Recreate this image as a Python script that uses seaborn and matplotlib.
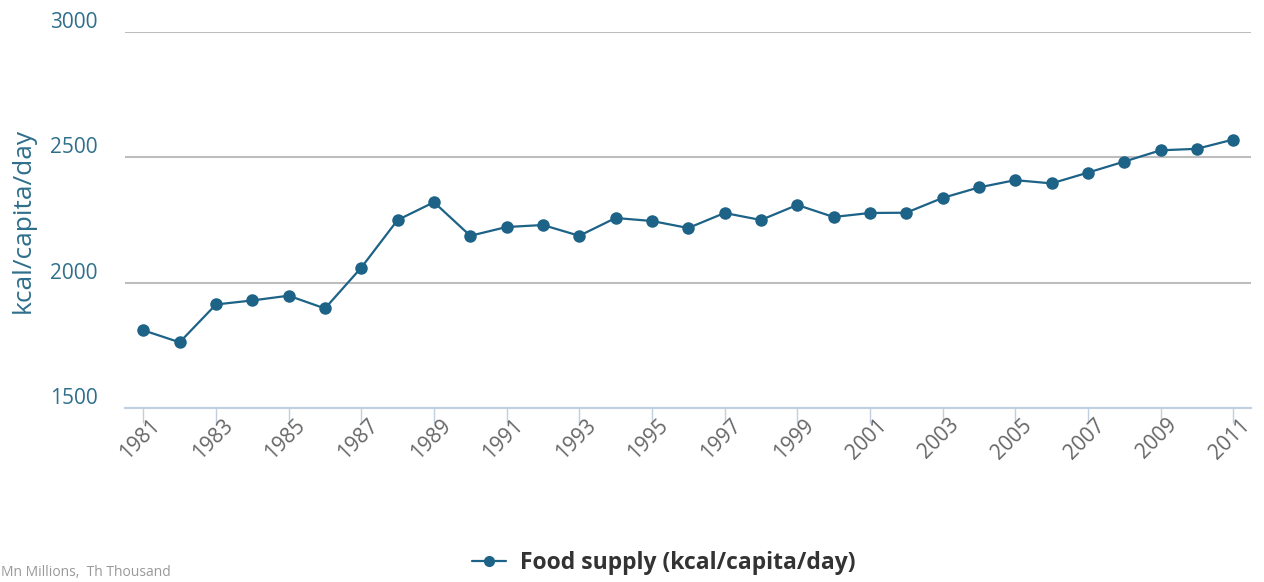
import matplotlib
matplotlib.use("Agg")
import matplotlib.pyplot as plt
import matplotlib.transforms as mtransforms
from matplotlib.lines import Line2D
import seaborn as sns
import pandas as pd

years = list(range(1981, 2012))
food_supply = [1810, 1762, 1913, 1929, 1948, 1897, 2060, 2250, 2321, 2187,
               2222, 2230, 2187, 2258, 2246, 2218, 2278, 2250, 2310, 2262,
               2278, 2279, 2338, 2380, 2409, 2396, 2439, 2483, 2528, 2534,
               2571]
tick_years = list(range(1981, 2012, 2))
y_ticks = [1500, 2000, 2500, 3000]
series_name = "Food supply (kcal/capita/day)"
y_title = "kcal/capita/day"
footnote = "Mn Millions,  Th Thousand"

df = pd.DataFrame({"year": years, "value": food_supply, "series": series_name})

sns.set_theme(style="white")
plt.rcParams["font.family"] = ["Open Sans", "DejaVu Sans"]

line_color = "#1d6287"
axis_text = "#2f6f8c"

fig = plt.figure(figsize=(12.64, 5.82), dpi=100)
ax = fig.add_axes([0.099, 0.299, 0.891, 0.646])

sns.lineplot(data=df, x="year", y="value", hue="series", palette=[line_color],
             marker="o", markersize=9, markeredgewidth=0, linewidth=1.6,
             ax=ax, legend=False)

ax.set_xlim(1980.5, 2011.5)
ax.set_ylim(1500, 3000)
ax.set_yticks(y_ticks)
ax.set_yticklabels([str(v) for v in y_ticks], color=axis_text, fontsize=15)
ax.yaxis.grid(True, color="#bdbdbd", linewidth=1.5)
ax.set_axisbelow(True)
ax.tick_params(axis="y", length=0, pad=20)
up = mtransforms.ScaledTranslation(0, 12 / 100, fig.dpi_scale_trans)
for lab in ax.get_yticklabels():
    lab.set_transform(lab.get_transform() + up)

ax.set_xticks(tick_years)
ax.set_xticklabels([str(y) for y in tick_years], rotation=45, ha="right",
                   va="top", rotation_mode="anchor", color="#666666",
                   fontsize=15)
ax.tick_params(axis="x", length=10.5, width=1, color="#c0d0e0", pad=0,
               direction="out", bottom=True)
shift = mtransforms.ScaledTranslation(6 / 100, 8 / 100, fig.dpi_scale_trans)
for lab in ax.get_xticklabels():
    lab.set_transform(lab.get_transform() + shift)

for s in ["top", "right", "left"]:
    ax.spines[s].set_visible(False)
ax.spines["bottom"].set_color("#c0d0e0")
ax.spines["bottom"].set_linewidth(1.5)

ax.set_xlabel("")
ax.set_ylabel("")
fig.text(23 / 1264, 1 - 220 / 582, y_title, rotation=90, color=axis_text,
         fontsize=19, ha="center", va="center")

handle = Line2D([], [], color=line_color, marker="o", markersize=8,
                markeredgewidth=0, linewidth=1.6)
fig.legend([handle], [series_name], loc="center", bbox_to_anchor=(0.525, 0.033),
           frameon=False, prop={"size": 16.5, "weight": "bold"},
           labelcolor="#333333", handlelength=1.5, handletextpad=0.6)

fig.text(0.001, 0.004, footnote, color="#999999", fontsize=10,
         ha="left", va="bottom")

fig.savefig("out.png", dpi=100)
